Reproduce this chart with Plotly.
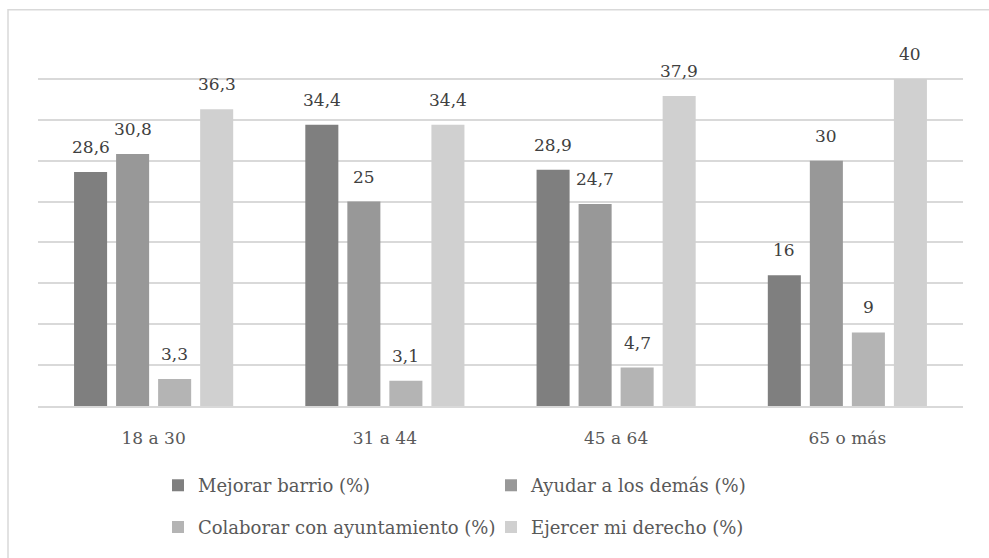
import plotly.graph_objects as go

categories = ["18 a 30", "31 a 44", "45 a 64", "65 o más"]
series_names = ["Mejorar barrio (%)", "Ayudar a los demás (%)",
                "Colaborar con ayuntamiento (%)", "Ejercer mi derecho (%)"]
mejorar = [28.6, 34.4, 28.9, 16]
ayudar = [30.8, 25, 24.7, 30]
colaborar = [3.3, 3.1, 4.7, 9]
ejercer = [36.3, 34.4, 37.9, 40]
series_values = [mejorar, ayudar, colaborar, ejercer]
colors = ["#7f7f7f", "#989898", "#b4b4b4", "#d0d0d0"]
legend_ids = ["legend", "legend", "legend2", "legend2"]

FONT = "DejaVu Serif"

def fmt(v):
    s = ("%g" % v)
    return s.replace(".", ",")

fig = go.Figure()
for name, vals, col, lg in zip(series_names, series_values, colors, legend_ids):
    fig.add_trace(go.Bar(
        x=categories, y=vals, name=name, marker=dict(color=col, line=dict(width=0)),
        legend=lg, hoverinfo="skip",
    ))

slot = 42
for i, vals in enumerate(series_values):
    for c, v in zip(categories, vals):
        fig.add_annotation(
            x=c, y=v, text=fmt(v), showarrow=False, yanchor="bottom",
            xshift=(i - 1.5) * slot, yshift=13,
            font=dict(family=FONT, size=17, color="#404040"),
        )

W, H = 989, 558
ml, mr, mt, mb = 38, 26, 38, 150
pw = W - ml - mr
ph = H - mt - mb

fig.add_shape(type="rect", xref="paper", yref="paper",
              x0=(8 - ml) / pw, x1=(1000 - ml) / pw,
              y0=(H - mb - 600) / ph, y1=(H - mb - 9.5) / ph,
              line=dict(color="#d9d9d9", width=1.5), fillcolor="rgba(0,0,0,0)", layer="below")

leg_font = dict(family=FONT, size=18, color="#595959")
fig.update_layout(
    width=W, height=H,
    margin=dict(l=ml, r=mr, t=mt, b=mb),
    paper_bgcolor="white", plot_bgcolor="white",
    barmode="group", bargap=0.273, bargroupgap=0.214,
    font=dict(family=FONT, color="#595959"),
    xaxis=dict(showgrid=False, showline=True, linecolor="#d9d9d9", linewidth=1.5,
               tickfont=dict(family=FONT, size=17, color="#595959"),
               ticks="", ticklabelstandoff=16),
    yaxis=dict(range=[0, 45], dtick=5, showgrid=True, gridcolor="#d9d9d9", gridwidth=1.5,
               showticklabels=False, zeroline=False, showline=False),
    legend=dict(orientation="h", x=(158 - ml) / pw, xanchor="left",
                y=(H - mb - 488) / ph, yanchor="middle",
                font=leg_font, entrywidth=288, itemwidth=30, bgcolor="rgba(0,0,0,0)"),
    legend2=dict(orientation="h", x=(158 - ml) / pw, xanchor="left",
                 y=(H - mb - 530) / ph, yanchor="middle",
                 font=leg_font, entrywidth=288, itemwidth=30, bgcolor="rgba(0,0,0,0)"),
)

fig.write_html("out.html")
